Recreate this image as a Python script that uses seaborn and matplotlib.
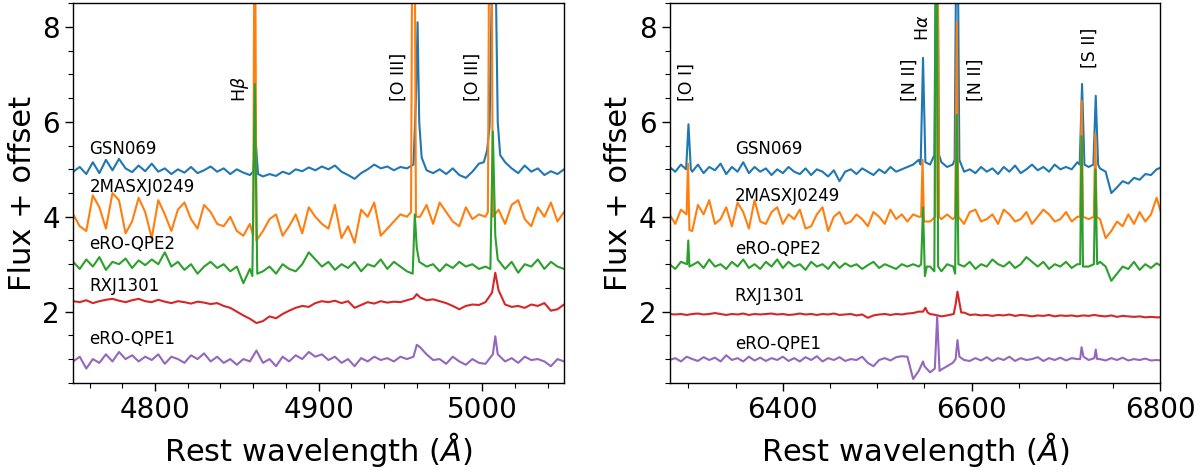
import numpy as np
import pandas as pd
import seaborn as sns
import matplotlib.pyplot as plt
from matplotlib.ticker import MultipleLocator

# wavelength sampling of the two panels
wl_left = np.linspace(4750, 5050, 76)     # 4 A step
wl_right = np.linspace(6280, 6802, 88)    # 6 A step

names = ['GSN069', '2MASXJ0249', 'eRO-QPE2', 'RXJ1301', 'eRO-QPE1']
colors = ['#1f77b4', '#ff7f0e', '#2ca02c', '#d62728', '#9467bd']

# ---------------- left panel (H-beta / [O III]) continuum ----------------
gsn_left = [4.95, 5.05, 4.90, 5.15, 4.92, 5.20, 4.98, 5.22, 5.02, 4.94,
            5.08, 4.96, 5.12, 4.95, 5.02, 4.90, 5.00, 4.93, 5.05, 4.92,
            4.98, 5.06, 4.95, 5.02, 4.90, 5.00, 4.93, 4.88, 5.00, 4.85,
            4.90, 4.86, 4.95, 4.90, 5.00, 4.96, 5.04, 4.98, 5.06, 5.00,
            5.08, 4.95, 4.88, 4.80, 4.92, 5.00, 5.10, 5.02, 5.06, 4.98,
            5.05, 5.02, 5.08, 5.15, 4.98, 4.92, 5.00, 4.90, 5.02, 4.88,
            4.82, 4.95, 5.12, 5.35, 5.70, 5.60, 5.15, 5.02, 4.92, 5.08,
            4.95, 5.02, 4.88, 4.96, 4.90, 5.00]
mas_left = [4.05, 3.80, 3.70, 4.45, 4.20, 3.75, 4.50, 4.35, 3.65, 3.90,
            4.40, 4.10, 3.55, 4.35, 4.05, 3.70, 4.15, 4.30, 3.95, 3.75,
            4.25, 4.10, 3.85, 3.80, 4.00, 3.70, 3.60, 3.85, 3.40, 3.70,
            3.95, 4.05, 3.60, 3.80, 4.05, 3.65, 4.20, 4.00, 3.85, 3.75,
            4.25, 3.55, 3.80, 3.45, 4.15, 4.00, 4.30, 3.60, 3.75, 3.90,
            4.05, 4.00, 4.10, 4.00, 4.25, 3.85, 4.30, 4.10, 3.90, 3.80,
            4.20, 3.95, 4.05, 4.00, 4.10, 4.15, 3.85, 4.25, 4.35, 3.95,
            3.80, 4.20, 4.00, 4.30, 3.90, 4.10]
qpe2_left = [3.05, 2.90, 3.10, 2.95, 3.15, 2.88, 3.05, 3.00, 3.12, 2.92,
             3.08, 2.98, 3.10, 3.00, 3.25, 2.95, 3.05, 2.88, 3.00, 2.80,
             2.95, 3.05, 2.92, 3.00, 2.85, 2.95, 2.60, 2.90, 3.00, 2.85,
             2.95, 2.80, 3.00, 2.90, 2.85, 3.00, 3.25, 3.10, 2.95, 3.05,
             2.88, 3.00, 2.92, 3.05, 2.85, 3.00, 2.95, 3.10, 2.90, 3.05,
             2.95, 2.85, 3.00, 3.05, 2.95, 3.00, 2.85, 3.00, 2.92, 3.05,
             2.95, 3.00, 2.90, 2.95, 2.98, 3.00, 2.90, 3.05, 2.82, 3.00,
             2.95, 3.10, 2.90, 3.05, 2.95, 2.90]
rxj_left = [2.22, 2.20, 2.24, 2.18, 2.22, 2.25, 2.27, 2.23, 2.20, 2.24,
            2.27, 2.22, 2.20, 2.25, 2.21, 2.18, 2.22, 2.20, 2.17, 2.21,
            2.19, 2.16, 2.18, 2.12, 2.08, 2.00, 1.92, 1.85, 1.76, 1.80,
            1.90, 1.86, 1.95, 2.02, 2.08, 2.12, 2.10, 2.18, 2.22, 2.20,
            2.23, 2.18, 2.22, 2.08, 2.14, 2.20, 2.17, 2.22, 2.19, 2.21,
            2.20, 2.24, 2.28, 2.30, 2.24, 2.26, 2.22, 2.18, 2.12, 2.05,
            2.12, 2.15, 2.14, 2.20, 2.55, 2.65, 2.15, 2.10, 2.12, 2.08,
            2.15, 2.12, 2.18, 2.02, 2.05, 2.15]
qpe1_left = [0.95, 1.05, 0.80, 1.00, 0.92, 1.10, 0.95, 1.15, 1.00, 1.08,
             0.95, 1.05, 0.98, 1.10, 0.90, 1.05, 1.00, 0.92, 1.08, 1.00,
             1.12, 0.95, 1.05, 0.92, 1.00, 0.88, 1.00, 0.95, 1.18, 0.92,
             1.00, 0.85, 1.05, 0.95, 1.08, 1.00, 1.15, 1.05, 1.10, 0.98,
             1.05, 0.92, 1.00, 0.85, 1.02, 0.95, 1.05, 0.98, 1.02, 0.95,
             1.05, 1.00, 1.05, 1.25, 1.10, 0.98, 1.00, 0.90, 1.05, 0.95,
             0.88, 1.00, 0.92, 0.90, 1.20, 1.15, 0.95, 1.02, 0.92, 1.05,
             0.98, 1.00, 0.95, 0.85, 1.00, 0.95]

# emission line points (wavelength, flux), left panel
gsn_left_lwl = [4860, 4861.5, 4863, 4958, 4959.5, 4960.5, 4961.5, 4963,
                5001, 5003, 5004.5, 5005.5, 5007, 5008.5, 5009.5, 5011]
gsn_left_lfl = [4.95, 5.6, 4.9, 5.1, 6.5, 8.1, 6.0, 5.25,
                5.15, 5.4, 5.9, 8.0, 11.0, 8.5, 6.0, 5.3]
mas_left_lwl = [4860, 4861, 4862, 4956.5, 4957.5, 4958.5, 4959.5,
                5003.5, 5004.5, 5005.5, 5006.5]
mas_left_lfl = [3.6, 12.0, 3.5, 4.1, 12.0, 12.0, 4.0,
                4.1, 12.0, 12.0, 4.0]
qpe2_left_lwl = [4859.5, 4861, 4862.5, 4957.5, 4958.8, 4960, 4961.5,
                 5005, 5006.5, 5008, 5009.5]
qpe2_left_lfl = [2.75, 6.8, 2.8, 2.8, 4.05, 3.35, 3.05,
                 2.9, 5.8, 3.6, 3.1]
rxj_left_lwl = [4960, 5006, 5008, 5010]
rxj_left_lfl = [2.37, 2.4, 2.82, 2.45]
qpe1_left_lwl = [4960, 5006.5, 5008, 5009.5]
qpe1_left_lfl = [1.3, 1.1, 1.48, 1.1]

# ---------------- right panel (H-alpha / [N II] / [S II]) continuum ----------------
gsn_right = [5.05, 4.95, 5.10, 5.00, 4.95, 5.10, 4.92, 5.05, 4.98, 5.12,
             4.90, 5.05, 4.95, 5.15, 4.92, 5.05, 4.95, 5.02, 4.88, 5.00,
             4.92, 5.05, 4.95, 4.90, 5.02, 4.88, 5.00, 4.95, 4.85, 4.98,
             4.75, 4.95, 5.00, 4.90, 5.02, 4.95, 4.88, 5.00, 4.92, 5.05,
             4.95, 5.00, 5.05, 5.10, 5.20, 5.15, 5.10, 5.20, 5.15, 5.05,
             5.10, 5.15, 4.95, 5.00, 4.92, 5.05, 4.95, 5.02, 4.90, 5.05,
             4.95, 5.08, 4.92, 5.00, 5.10, 4.98, 5.05, 4.95, 5.10, 5.00,
             5.05, 5.00, 5.15, 5.10, 5.05, 5.10, 5.02, 4.95, 4.50, 4.62,
             4.75, 4.70, 4.82, 4.78, 4.90, 4.88, 5.00, 5.05]
mas_right = [4.05, 3.85, 4.15, 3.90, 3.70, 4.25, 4.05, 4.35, 3.85, 3.95,
             4.20, 3.80, 4.30, 4.10, 3.75, 4.35, 3.90, 3.85, 4.10, 4.20,
             3.85, 4.05, 3.95, 4.15, 3.75, 3.80, 4.05, 4.20, 3.70, 4.00,
             4.10, 3.85, 3.90, 4.05, 3.95, 3.80, 4.10, 4.00, 3.85, 4.15,
             3.95, 4.05, 3.90, 4.05, 4.00, 3.95, 3.90, 4.00, 3.95, 4.05,
             3.95, 4.00, 3.85, 4.10, 4.15, 3.90, 3.95, 4.05, 3.85, 4.15,
             4.05, 3.90, 3.95, 4.10, 3.85, 4.00, 4.15, 4.05, 3.90, 3.95,
             4.10, 3.90, 4.00, 4.05, 3.95, 4.00, 3.95, 3.55, 3.70, 3.90,
             3.80, 4.05, 3.85, 4.10, 3.90, 4.05, 4.40, 4.00]
qpe2_right = [3.00, 2.90, 3.05, 2.95, 2.98, 3.05, 2.92, 3.10, 2.95, 3.00,
              2.90, 3.05, 2.95, 3.10, 2.92, 3.00, 2.90, 3.05, 2.95, 3.10,
              2.92, 3.05, 2.95, 3.00, 2.88, 3.05, 2.95, 3.00, 2.90, 3.05,
              2.92, 3.02, 2.95, 3.00, 2.90, 2.98, 3.05, 2.92, 3.00, 2.95,
              2.90, 3.00, 2.95, 3.00, 2.95, 2.80, 2.95, 2.90, 2.85, 3.00,
              2.90, 3.00, 2.95, 3.05, 2.90, 3.00, 2.95, 3.10, 3.00, 2.95,
              3.05, 2.92, 3.00, 3.15, 3.05, 2.95, 3.05, 2.90, 3.00, 2.95,
              3.05, 2.92, 3.00, 3.00, 2.95, 3.00, 3.05, 2.95, 2.65, 2.80,
              2.95, 2.90, 3.05, 2.88, 3.00, 2.92, 3.02, 2.95]
rxj_right = [1.95, 1.94, 1.95, 1.93, 1.95, 1.96, 1.94, 1.95, 1.97, 1.95,
             1.93, 1.95, 1.94, 1.96, 1.93, 1.95, 1.94, 1.95, 1.96, 1.94,
             1.95, 1.93, 1.94, 1.96, 1.94, 1.95, 1.93, 1.95, 1.94, 1.96,
             1.93, 1.94, 1.95, 1.92, 1.94, 1.87, 1.92, 1.94, 1.95, 1.93,
             1.95, 1.94, 1.96, 1.97, 2.00, 2.05, 1.95, 1.93, 1.90, 1.92,
             2.00, 2.30, 1.98, 1.93, 1.94, 1.92, 1.93, 1.91, 1.93, 1.92,
             1.94, 1.91, 1.93, 1.92, 1.90, 1.92, 1.91, 1.93, 1.90, 1.92,
             1.91, 1.92, 1.90, 1.92, 1.91, 1.93, 1.91, 1.90, 1.92, 1.89,
             1.91, 1.90, 1.89, 1.90, 1.88, 1.89, 1.88, 1.88]
qpe1_right = [0.98, 1.02, 0.95, 1.05, 1.00, 0.96, 1.04, 0.98, 1.03, 0.95,
              1.08, 0.98, 1.02, 0.95, 1.05, 0.97, 1.03, 0.96, 1.02, 0.98,
              1.05, 0.96, 1.02, 0.95, 1.04, 0.98, 1.06, 0.95, 1.02, 0.98,
              1.04, 0.96, 1.00, 0.98, 1.05, 0.92, 0.85, 0.98, 1.02, 0.97,
              1.04, 1.06, 1.05, 0.58, 0.75, 0.85, 0.72, 0.85, 0.78, 0.85,
              0.92, 1.10, 0.98, 0.96, 1.02, 0.97, 1.04, 0.96, 1.02, 0.98,
              1.05, 0.96, 1.02, 0.98, 1.00, 1.04, 0.96, 1.02, 0.98, 1.03,
              0.97, 1.02, 1.00, 1.05, 0.98, 1.02, 1.00, 0.97, 1.02, 0.98,
              1.03, 0.97, 1.00, 0.98, 1.01, 0.97, 0.98, 0.97]

# emission line points (wavelength, flux), right panel
gsn_right_lwl = [6297.5, 6300, 6302.5, 6546, 6548.5, 6551, 6560.5, 6563, 6565.5,
                 6582, 6584.5, 6587, 6714.5, 6717, 6719.5, 6729, 6731.5, 6734]
gsn_right_lfl = [5.0, 5.95, 5.0, 5.1, 7.35, 5.15, 5.3, 12.0, 5.3,
                 5.2, 12.0, 5.2, 5.1, 6.8, 5.1, 5.1, 6.55, 5.1]
mas_right_lwl = [6298, 6299.5, 6301, 6546.5, 6548, 6549.5, 6561.5, 6563.5, 6565.5,
                 6582.5, 6584.3, 6586, 6715, 6716.5, 6718, 6729.5, 6731, 6732.5]
mas_right_lfl = [4.05, 5.12, 3.72, 4.0, 5.2, 3.9, 4.0, 12.0, 4.0,
                 4.0, 8.1, 4.0, 4.0, 6.45, 4.0, 4.0, 5.75, 4.0]
qpe2_right_lwl = [6298.5, 6299.8, 6301, 6546.5, 6548.5, 6550.5, 6552.5,
                  6560.5, 6562.5, 6564.5, 6580.5, 6582.5, 6584.2, 6586,
                  6715, 6716.5, 6718, 6729.5, 6731.2, 6733]
qpe2_right_lfl = [3.0, 3.5, 2.95, 3.0, 4.2, 2.75, 2.95,
                  2.85, 12.0, 2.95, 2.95, 2.8, 6.15, 3.0,
                  3.0, 5.7, 2.95, 3.0, 5.0, 3.0]
rxj_right_lwl = [6548.5, 6551, 6553.5, 6581, 6583, 6585, 6587, 6589]
rxj_right_lfl = [2.0, 2.08, 1.98, 1.95, 2.15, 2.42, 2.2, 1.98]
qpe1_right_lwl = [6548.5, 6561, 6563.5, 6566, 6583, 6585, 6587,
                  6715, 6716.5, 6718.5, 6730, 6731.5, 6733]
qpe1_right_lfl = [0.95, 0.8, 1.9, 0.75, 1.0, 1.4, 1.05,
                  1.0, 1.25, 1.05, 1.02, 1.2, 1.0]

left_cont = [gsn_left, mas_left, qpe2_left, rxj_left, qpe1_left]
left_lwl = [gsn_left_lwl, mas_left_lwl, qpe2_left_lwl, rxj_left_lwl, qpe1_left_lwl]
left_lfl = [gsn_left_lfl, mas_left_lfl, qpe2_left_lfl, rxj_left_lfl, qpe1_left_lfl]
right_cont = [gsn_right, mas_right, qpe2_right, rxj_right, qpe1_right]
right_lwl = [gsn_right_lwl, mas_right_lwl, qpe2_right_lwl, rxj_right_lwl, qpe1_right_lwl]
right_lfl = [gsn_right_lfl, mas_right_lfl, qpe2_right_lfl, rxj_right_lfl, qpe1_right_lfl]

# label positions
left_name_y = [5.42, 4.62, 3.42, 2.53, 1.42]
right_name_y = [5.42, 4.43, 3.31, 2.33, 1.31]
left_lines = [(4852, 6.41, r'H$\beta$'), (4949, 6.43, '[O III]'), (4994, 6.43, '[O III]')]
right_lines = [(6298, 6.43, '[O I]'), (6534.5, 6.43, '[N II]'), (6548.6, 7.70, r'H$\alpha$'),
               (6604.5, 6.43, '[N II]'), (6725.5, 7.14, '[S II]')]


def build(grid, cont, lwl, lfl):
    # continuum samples sitting on top of a line are dropped, line points kept
    lwl = np.asarray(lwl, dtype=float)
    keep = [np.all(np.abs(lwl - w) > 1.2) for w in grid]
    cdf = pd.DataFrame({'wl': grid, 'flux': cont})[keep]
    ldf = pd.DataFrame({'wl': lwl, 'flux': lfl})
    return pd.concat([cdf, ldf]).sort_values('wl').reset_index(drop=True)


sns.set_style('ticks', {'axes.edgecolor': 'black', 'xtick.color': 'black',
                        'ytick.color': 'black', 'text.color': 'black',
                        'axes.labelcolor': 'black'})
plt.rcParams['font.family'] = ['DejaVu Sans']

fig = plt.figure(figsize=(12, 4.72), dpi=100)
ax1 = fig.add_axes([0.061, 0.189, 0.409, 0.804])
ax2 = fig.add_axes([0.558, 0.189, 0.409, 0.804])

panels = [
    (ax1, wl_left, left_cont, left_lwl, left_lfl, left_name_y, 4760, left_lines,
     (4750, 5050), 100, 20),
    (ax2, wl_right, right_cont, right_lwl, right_lfl, right_name_y, 6349, right_lines,
     (6280, 6800), 200, 50),
]

for ax, grid, conts, lwls, lfls, name_y, name_x, lines, xlim, major, minor in panels:
    for i in range(5):
        df = build(grid, conts[i], lwls[i], lfls[i])
        sns.lineplot(data=df, x='wl', y='flux', color=colors[i], lw=1.5,
                     estimator=None, ax=ax)
        ax.text(name_x, name_y[i], names[i], fontsize=12, va='center', ha='left')
    for x, y, s in lines:
        ax.text(x, y, s, rotation=90, fontsize=12.5, ha='center', va='bottom')
    ax.set_xlim(*xlim)
    ax.set_ylim(0.5, 8.5)
    ax.xaxis.set_major_locator(MultipleLocator(major))
    ax.xaxis.set_minor_locator(MultipleLocator(minor))
    ax.yaxis.set_major_locator(MultipleLocator(2))
    ax.yaxis.set_minor_locator(MultipleLocator(0.5))
    ax.tick_params(which='major', labelsize=20, length=6, width=1)
    ax.tick_params(which='minor', length=3.5, width=0.8)
    ax.set_xlabel(r'Rest wavelength ($\AA$)', fontsize=22)
    ax.set_ylabel('Flux + offset', fontsize=22)
    for sp in ax.spines.values():
        sp.set_linewidth(1.0)

fig.savefig('out.png', dpi=100)
